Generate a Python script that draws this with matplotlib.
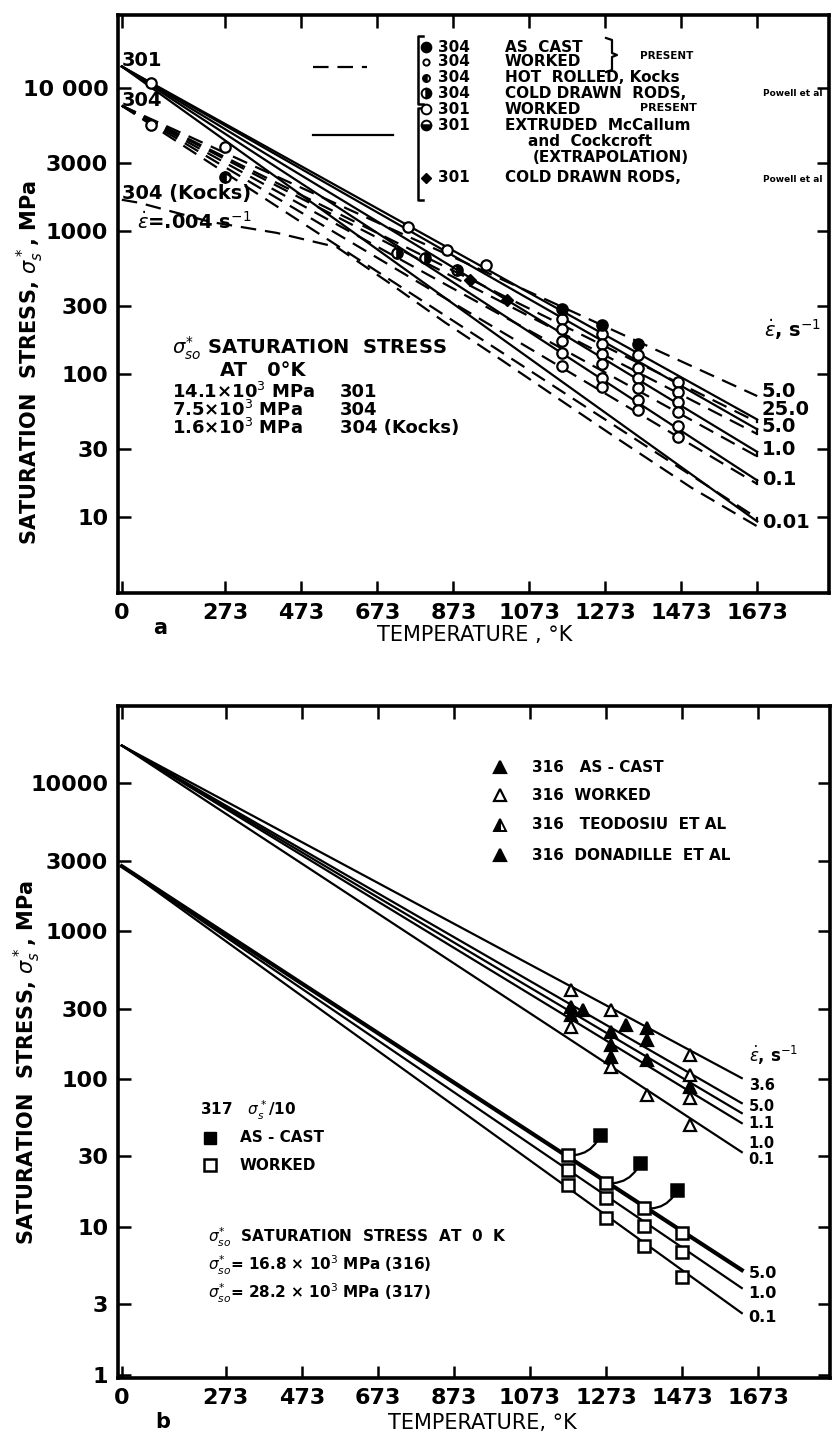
""" Saturation stress of austenitic stainless steels vs temperature (panels a and b) """

import matplotlib
matplotlib.use('Agg')
import matplotlib.pyplot as plt
from matplotlib.lines import Line2D
from matplotlib.ticker import NullLocator

W, H = 834, 1431

### Temperature ticks (K), shared by both panels
temp_ticks = [0, 273, 473, 673, 873, 1073, 1273, 1473, 1673]

### ---------------- panel a : 301 and 304 ----------------
ticks_a = [10, 30, 100, 300, 1000, 3000, 10000]
tick_labels_a = ['10', '30', '100', '300', '1000', '3000', '10 000']

sigma0_301 = 14100.0
sigma0_304 = 7500.0
T_end_a = 1673
rates_a = ['5.0', '25.0', '5.0', '1.0', '0.1', '0.01']
end_301 = [None, 48, 41, 28.5, 18, 9.3]      # solid lines, stress at 1673 K
end_304 = [70, 46, 38, 26.5, 17, 9.8]        # dashed lines, stress at 1673 K
rate_label_sigma_a = [75, 56, 42.6, 29.4, 18.4, 9.2]

kocks_T = [0, 47, 232, 408, 566, 700, 850, 1000, 1161, 1300, 1500, 1673]
kocks_sigma = [1650, 1570, 1157, 968, 770, 440, 230, 125, 64, 36, 16, 8.6]

col_T_a = [1160, 1265, 1360, 1465]
col_cast_a = [285, 220, 162]
col_worked_a = [[243, 206, 170, 140, 114],
                [190, 162, 138, 117, 94, 81],
                [136, 110, 94, 80, 66, 56],
                [88, 75, 64, 54, 43, 36]]

worked_low_T = [77, 77, 273]
worked_low_sigma = [10800, 5510, 3860]
hot_rolled_T = [273]
hot_rolled_sigma = [2390]
extruded_301_T = [753, 855, 960]
extruded_301_sigma = [1067, 736, 578]
powell_304_T = [724, 797, 882]
powell_304_sigma = [702, 650, 536]
powell_301_T = [916, 1013]
powell_301_sigma = [455, 330]

### ---------------- panel b : 316 and 317 ----------------
ticks_b = [1, 3, 10, 30, 100, 300, 1000, 3000, 10000]
tick_labels_b = ['1', '3', '10', '30', '100', '300', '1000', '3000', '10000']

sigma0_316 = 18000.0
sigma0_317 = 2750.0          # sigma / 10
T_end_b = 1630
rates_316 = ['3.6', '5.0', '1.1', '1.0', '0.1']
end_316 = [101.6, 68.8, 58.9, 50.4, 32.1]
rate_label_sigma_316 = [91, 65.5, 50.5, 37, 28.5]
rates_317 = ['5.0', '1.0', '0.1']
end_317 = [5.12, 3.87, 2.62]
rate_label_sigma_317 = [4.89, 3.58, 2.43]

tri_open_T = [1180, 1180, 1285, 1285, 1380, 1495, 1495, 1495, 1495]
tri_open_sigma = [399, 225, 293, 120, 78, 145, 106, 74.5, 49]
tri_fill_T = [1180, 1180, 1213, 1285, 1285, 1285, 1325, 1380, 1380, 1380, 1495]
tri_fill_sigma = [306, 271, 293, 208, 169, 141, 232, 221, 184, 134, 88]

sq_col_T = [1173, 1273, 1373, 1473]
sq_worked = [[30.6, 24.2, 19.2],
             [19.8, 15.7, 11.5],
             [13.4, 10.1, 7.45],
             [9.1, 6.8, 4.6]]
sq_cast_T = [1258, 1363, 1460]
sq_cast_sigma = [41.9, 27.1, 17.8]

### ---------------- helpers ----------------
def fxy( px , py ):
    """ pixel position of the scanned page -> figure fraction """
    return px / W , 1.0 - py / H

def put( px , py , s , size=12 , weight='bold' , ha='left' , **kw ):
    x , y = fxy( px , py )
    fig.text( x , y , s , fontsize=size , fontweight=weight , ha=ha , va='center' , **kw )

def fig_line( pts , **kw ):
    xs = [ fxy( p[0] , p[1] )[0] for p in pts ]
    ys = [ fxy( p[0] , p[1] )[1] for p in pts ]
    fig.add_artist( Line2D( xs , ys , transform=fig.transFigure , color='k' , **kw ) )

def fig_marker( px , py , **kw ):
    x , y = fxy( px , py )
    fig.add_artist( Line2D( [x] , [y] , transform=fig.transFigure , linestyle='none' , **kw ) )

def style_axes( ax , yticks , ylabels , ylim ):
    ax.set_yscale( 'log' )
    ax.set_xlim( -10 , 1862 )
    ax.set_ylim( *ylim )
    ax.set_xticks( temp_ticks )
    ax.set_xticklabels( [ str( t ) for t in temp_ticks ] )
    ax.set_yticks( yticks )
    ax.set_yticklabels( ylabels )
    ax.yaxis.set_minor_locator( NullLocator() )
    ax.tick_params( direction='in' , length=9 , width=1.8 , top=True , right=True ,
                    labelsize=16 , pad=7 )
    for lab in ax.get_xticklabels() + ax.get_yticklabels():
        lab.set_fontweight( 'bold' )
    for sp in ax.spines.values():
        sp.set_linewidth( 2.6 )

DASH = ( 0 , ( 7 , 4 ) )
LW = 1.6

fig = plt.figure( figsize=( W / 100 , H / 100 ) , dpi=100 )
fig.patch.set_facecolor( 'white' )

### ================= panel a =================
ax1 = fig.add_axes( [ 118 / W , 1 - 593 / H , 711 / W , 578 / H ] )
style_axes( ax1 , ticks_a , tick_labels_a , ( 2.94 , 32300 ) )

for i in range( len( rates_a ) ):
    if end_301[ i ] is not None:
        ax1.plot( [ 0 , T_end_a ] , [ sigma0_301 , end_301[ i ] ] , color='k' , lw=LW )
    ax1.plot( [ 0 , T_end_a ] , [ sigma0_304 , end_304[ i ] ] , color='k' , lw=LW , linestyle=DASH )
    if end_301[ i ] is not None:
        ax1.plot( [ T_end_a , T_end_a ] , [ end_301[ i ] , end_304[ i ] ] , color='k' , lw=LW )
    ax1.text( 1685 , rate_label_sigma_a[ i ] , rates_a[ i ] , fontsize=14 , fontweight='bold' ,
              va='center' , ha='left' )

ax1.plot( kocks_T , kocks_sigma , color='k' , lw=LW , linestyle=DASH )

mk = dict( linestyle='none' , marker='o' , ms=7.5 , mec='k' , mew=1.6 )
for j , T in enumerate( col_T_a ):
    ax1.plot( [ T ] * len( col_worked_a[ j ] ) , col_worked_a[ j ] , mfc='white' , **mk )
ax1.plot( col_T_a[ :3 ] , col_cast_a , mfc='k' , **mk )
ax1.plot( worked_low_T , worked_low_sigma , mfc='white' , **mk )
ax1.plot( hot_rolled_T , hot_rolled_sigma , mfc='k' , fillstyle='left' , **mk )
ax1.plot( extruded_301_T , extruded_301_sigma , mfc='white' , **mk )
ax1.plot( powell_304_T , powell_304_sigma , mfc='k' , fillstyle='right' , **mk )
ax1.plot( powell_301_T , powell_301_sigma , linestyle='none' , marker='D' , ms=6 , mfc='k' , mec='k' )

ax1.text( 1690 , 205 , r'$\dot{\varepsilon}$, s$^{-1}$' , fontsize=14 , fontweight='bold' , va='center' )

### labels near the 0 K axis
put( 122 , 60 , '301' , size=14 )
put( 122 , 100 , '304' , size=14 )
put( 122 , 193 , '304 (Kocks)' , size=14 )
put( 137 , 222 , r'$\dot{\varepsilon}$=.004 s$^{-1}$' , size=14 )

### saturation stress note
put( 172 , 348 , r'$\sigma_{so}^{*}$ SATURATION  STRESS' , size=14 )
put( 220 , 370 , 'AT   0°K' , size=14 )
put( 172 , 392 , r'14.1×10$^3$ MPa' , size=13 )
put( 172 , 410 , r'7.5×10$^3$ MPa' , size=13 )
put( 172 , 428 , r'1.6×10$^3$ MPa' , size=13 )
put( 340 , 392 , '301' , size=13 )
put( 340 , 410 , '304' , size=13 )
put( 340 , 428 , '304 (Kocks)' , size=13 )

### legend of panel a
fig_line( [ ( 313 , 67 ) , ( 367 , 67 ) ] , lw=LW , linestyle=DASH )
fig_line( [ ( 313 , 135 ) , ( 393 , 135 ) ] , lw=LW )
fig_line( [ ( 423 , 36 ) , ( 418 , 36 ) , ( 418 , 104 ) , ( 423 , 104 ) ] , lw=1.8 )
fig_line( [ ( 423 , 108 ) , ( 418 , 108 ) , ( 418 , 200 ) , ( 423 , 200 ) ] , lw=1.8 )
fig_line( [ ( 606 , 38 ) , ( 612 , 40 ) , ( 612 , 53 ) , ( 617 , 55 ) , ( 612 , 57 ) , ( 612 , 70 ) , ( 606 , 72 ) ] , lw=1.6 )
legend_rows_a = [ ( 47 , '304' , 'AS  CAST' ) , ( 62 , '304' , 'WORKED' ) ,
                  ( 78 , '304' , 'HOT  ROLLED, Kocks' ) , ( 93 , '304' , 'COLD DRAWN  RODS,' ) ,
                  ( 109 , '301' , 'WORKED' ) , ( 125 , '301' , 'EXTRUDED  McCallum' ) ,
                  ( 178 , '301' , 'COLD DRAWN RODS,' ) ]
for y , num , txt in legend_rows_a:
    put( 438 , y , num , size=11 )
    put( 505 , y , txt , size=11 )
put( 528 , 142 , 'and  Cockcroft' , size=11 )
put( 533 , 158 , '(EXTRAPOLATION)' , size=11 )
put( 640 , 56 , 'PRESENT' , size=7.5 )
put( 640 , 108 , 'PRESENT' , size=8 )
put( 763 , 94 , 'Powell et al' , size=6.5 )
put( 763 , 179 , 'Powell et al' , size=6.5 )
leg = dict( ms=7 , mec='k' , mew=1.4 , marker='o' )
fig_marker( 426 , 47 , mfc='k' , **leg )
fig_marker( 426 , 62 , mfc='white' , **dict( leg , ms=4.5 ) )
fig_marker( 426 , 78 , mfc='k' , fillstyle='left' , **dict( leg , ms=5 ) )
fig_marker( 426 , 93 , mfc='k' , fillstyle='right' , **leg )
fig_marker( 426 , 109 , mfc='white' , **leg )
fig_marker( 426 , 125 , mfc='k' , fillstyle='bottom' , **leg )
fig_marker( 426 , 178 , marker='D' , ms=5.5 , mfc='k' , mec='k' )

put( 475 , 635 , 'TEMPERATURE , °K' , size=15 , weight='normal' , ha='center' )
put( 160 , 628 , 'a' , size=15 , ha='center' )
put( 30 , 363 , r'SATURATION  STRESS, $\sigma_s^*$, MPa' , size=15 , ha='center' , rotation=90 )

### ================= panel b =================
ax2 = fig.add_axes( [ 118 / W , 1 - 1378 / H , 712 / W , 672 / H ] )
style_axes( ax2 , ticks_b , tick_labels_b , ( 0.954 , 33300 ) )

for i in range( len( rates_316 ) ):
    ax2.plot( [ 0 , T_end_b ] , [ sigma0_316 , end_316[ i ] ] , color='k' , lw=LW )
    ax2.text( 1648 , rate_label_sigma_316[ i ] , rates_316[ i ] , fontsize=10.5 , fontweight='bold' ,
              va='center' , ha='left' )
for i in range( len( rates_317 ) ):
    ax2.plot( [ 0 , T_end_b ] , [ sigma0_317 , end_317[ i ] ] , color='k' , lw=3.0 if i == 0 else LW )
    ax2.text( 1648 , rate_label_sigma_317[ i ] , rates_317[ i ] , fontsize=11.5 , fontweight='bold' ,
              va='center' , ha='left' )

tri = dict( linestyle='none' , marker='^' , ms=9 , mec='k' , mew=1.6 )
ax2.plot( tri_open_T , tri_open_sigma , mfc='white' , **tri )
ax2.plot( tri_fill_T , tri_fill_sigma , mfc='k' , **tri )

sq = dict( linestyle='none' , marker='s' , ms=8.5 , mec='k' , mew=1.8 )
for j , T in enumerate( sq_col_T ):
    ax2.plot( [ T ] * len( sq_worked[ j ] ) , sq_worked[ j ] , mfc='white' , **sq )
for j in range( len( sq_cast_T ) ):
    ax2.annotate( '' , xy=( sq_cast_T[ j ] , sq_cast_sigma[ j ] ) ,
                  xytext=( sq_col_T[ j ] , sq_worked[ j ][ 0 ] ) ,
                  arrowprops=dict( arrowstyle='-' , lw=1.6 , color='k' ,
                                   connectionstyle='arc3,rad=0.35' , shrinkA=5 , shrinkB=5 ) )
ax2.plot( sq_cast_T , sq_cast_sigma , mfc='k' , **sq )

ax2.text( 1648 , 145 , r'$\dot{\varepsilon}$, s$^{-1}$' , fontsize=12 , fontweight='bold' , va='center' )

### legend of panel b
legend_rows_b = [ ( 767 , 'k' , '316   AS - CAST' ) , ( 795 , 'white' , '316  WORKED' ) ,
                  ( 825 , 'half' , '316   TEODOSIU  ET AL' ) , ( 855 , 'k' , '316  DONADILLE  ET AL' ) ]
for y , face , txt in legend_rows_b:
    if face == 'half':
        fig_marker( 500 , y , marker='^' , ms=8 , mfc='k' , mec='k' , fillstyle='left' , mew=1.4 )
    else:
        fig_marker( 500 , y , marker='^' , ms=8 , mfc=face , mec='k' , mew=1.6 )
    put( 532 , y , txt , size=11 )

put( 200 , 1110 , r'317   $\sigma_s^*$/10' , size=11 )
fig_marker( 210 , 1138 , marker='s' , ms=8 , mfc='k' , mec='k' )
put( 240 , 1138 , 'AS - CAST' , size=11 )
fig_marker( 210 , 1165 , marker='s' , ms=8 , mfc='white' , mec='k' , mew=1.8 )
put( 240 , 1165 , 'WORKED' , size=11 )

put( 208 , 1237 , r'$\sigma_{so}^{*}$  SATURATION  STRESS  AT  0  K' , size=11 )
put( 208 , 1265 , r'$\sigma_{so}^{*}$= 16.8 × 10$^3$ MPa (316)' , size=11 )
put( 208 , 1293 , r'$\sigma_{so}^{*}$= 28.2 × 10$^3$ MPa (317)' , size=11 )

put( 482 , 1423 , 'TEMPERATURE, °K' , size=15 , weight='normal' , ha='center' )
put( 163 , 1422 , 'b' , size=15 , ha='center' )
put( 27 , 1063 , r'SATURATION  STRESS, $\sigma_s^*$, MPa' , size=15 , ha='center' , rotation=90 )

fig.savefig( 'out.png' , dpi=100 , facecolor='white' )
